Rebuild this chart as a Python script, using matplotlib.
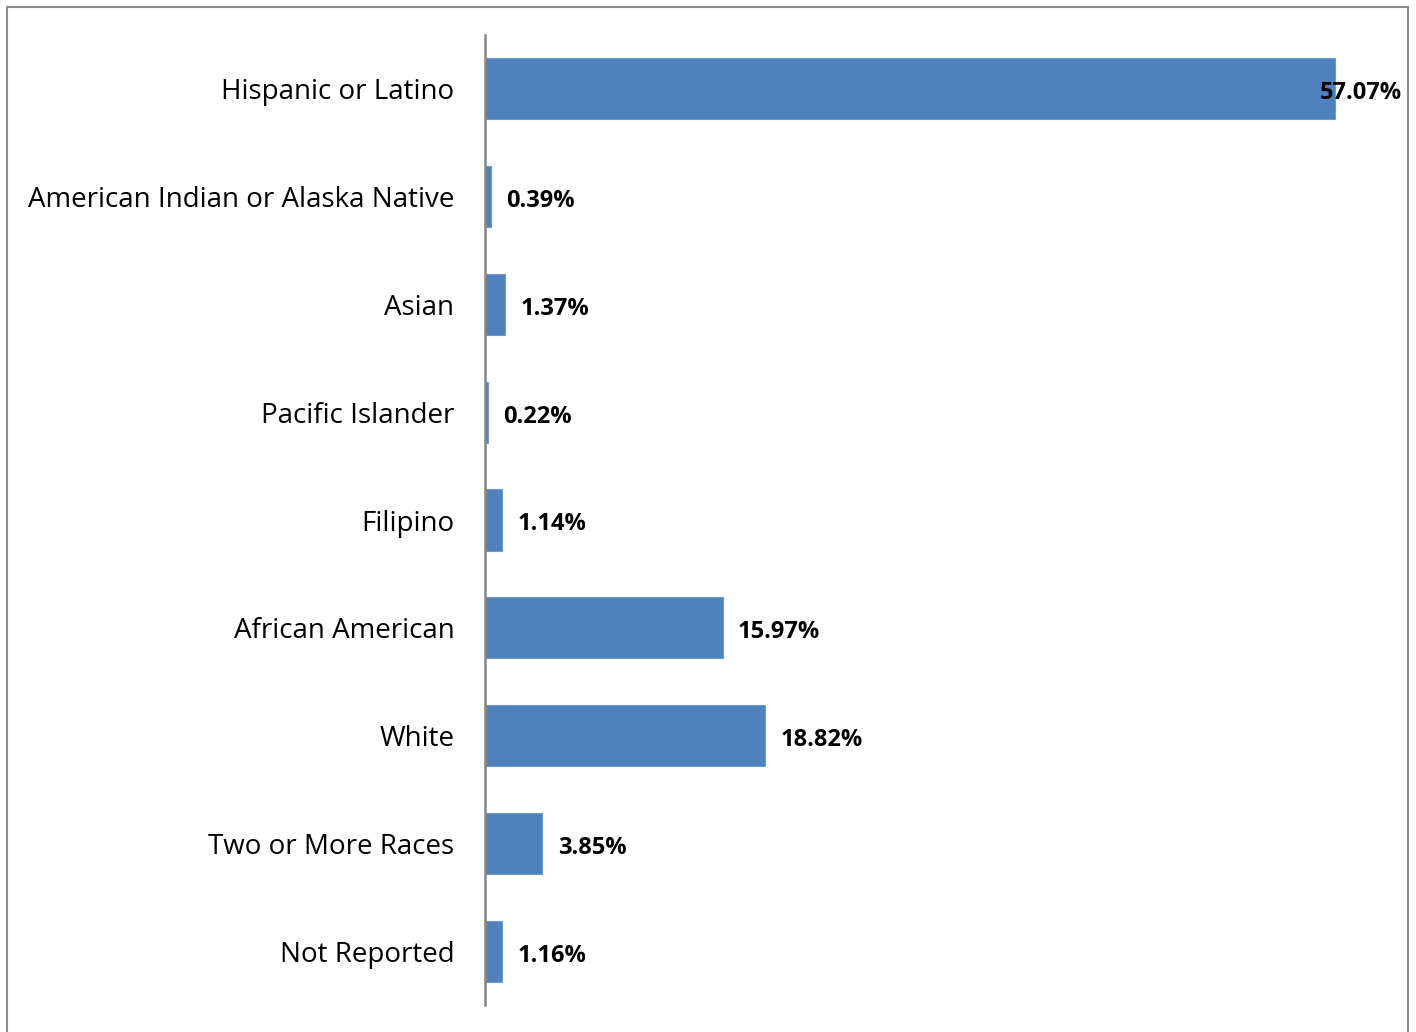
import matplotlib.pyplot as plt
from matplotlib.patches import Rectangle

groups = ["Hispanic or Latino", "American Indian or Alaska Native", "Asian",
          "Pacific Islander", "Filipino", "African American", "White",
          "Two or More Races", "Not Reported"]
percents = [57.07, 0.39, 1.37, 0.22, 1.14, 15.97, 18.82, 3.85, 1.16]

W, H = 1416, 1032
fig = plt.figure(figsize=(W / 100, H / 100), dpi=100)

# outer frame (bottom edge runs off the canvas)
fig.patches.append(Rectangle((7 / W, -0.05), (1408 - 7) / W, 1.05 - 7 / H,
                             transform=fig.transFigure, fill=False,
                             edgecolor="#8c8c8c", linewidth=1.5))

ax = fig.add_axes([485 / W, 27 / H, 908 / W, 970 / H])
pos = list(range(len(groups)))
ax.barh(pos, percents, height=0.566, color="#4f81bd", edgecolor="#6f9bd0",
        linewidth=0.8)
ax.set_ylim(len(groups) - 0.5, -0.5)
ax.set_xlim(0, 61)

ax.set_yticks(pos)
ax.set_yticklabels(groups, fontsize=20, family="Open Sans", color="black")
ax.tick_params(axis="y", length=0, pad=22)
ax.set_xticks([])
for s in ["top", "right", "bottom"]:
    ax.spines[s].set_visible(False)
ax.spines["left"].set_color("#868686")
ax.spines["left"].set_linewidth(1.8)

for p, v in zip(pos, percents):
    x = v
    if v > 50:
        # no room past the end of the longest bar
        x = v - 2.0
    ax.annotate(f"{v:.2f}%", (x, p), xytext=(11, -1), textcoords="offset points",
                va="center_baseline", ha="left", fontsize=17, fontweight="bold",
                family="Open Sans", color="black", annotation_clip=False)

fig.savefig("out.png", dpi=100)
